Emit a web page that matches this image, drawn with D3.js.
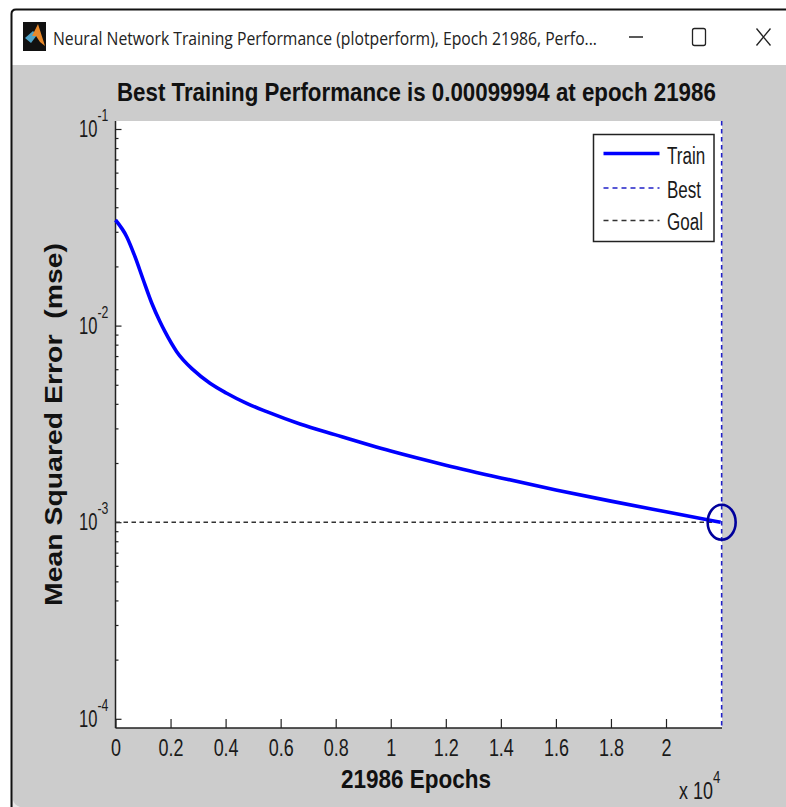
<!DOCTYPE html>
<html>
<head>
<meta charset="utf-8">
<script src="https://cdn.jsdelivr.net/npm/d3@7"></script>
<style>
  html, body { margin: 0; padding: 0; background: #fff; }
  svg { display: block; }
  text { font-family: "Liberation Sans", Arial, sans-serif; fill: #1a1a1a; }
</style>
</head>
<body>
<svg id="chart" width="786" height="807"></svg>
<script>
// values
const epochs = [0, 407, 708, 1010, 1315, 1617, 1798, 2223, 2826, 3433, 4040, 4767, 5493, 6703, 8000, 10000, 12000, 14000, 16000, 18000, 20000, 21986];
const mse = [0.03444, 0.02833, 0.02242, 0.01706, 0.01303, 0.01046, 0.00931, 0.00737, 0.00595, 0.00509, 0.00453, 0.00402, 0.00365, 0.00316, 0.00278, 0.0023, 0.00195, 0.00168, 0.00146, 0.00128, 0.00113, 0.00099994];
const bestEpoch = 21986;
const bestPerf = 0.00099994;
const goal = 0.001;
const xTicks = [0, 2000, 4000, 6000, 8000, 10000, 12000, 14000, 16000, 18000, 20000];
const xTickLabels = ["0", "0.2", "0.4", "0.6", "0.8", "1", "1.2", "1.4", "1.6", "1.8", "2"];
const yMajor = [1e-1, 1e-2, 1e-3, 1e-4];
const yExponents = ["-1", "-2", "-3", "-4"];
const yMinorMultipliers = [2, 3, 4, 5, 6, 7, 8, 9];
const legendNames = ["Train", "Best", "Goal"];

const windowTitle = "Neural Network Training Performance (plotperform), Epoch 21986, Perfo...";
const chartTitle = "Best Training Performance is 0.00099994 at epoch 21986";

const svg = d3.select("#chart"),
      width = +svg.attr("width"),
      height = +svg.attr("height");

const plot = { left: 115.5, right: 722, top: 121, bottom: 728 };

// the screenshot is squeezed sideways, so the Arial text is narrower than normal
const squeeze = function(sel, factor) {
  sel.each(function() {
    d3.select(this)
      .attr("textLength", this.getComputedTextLength() * factor)
      .attr("lengthAdjust", "spacingAndGlyphs");
  });
};

// base text with a raised exponent, as one text element
const powerLabel = function(px, py, base, exponent, sx) {
  const t = svg.append("text")
    .attr("transform", `translate(${px},${py}) scale(${sx},1)`)
    .style("font-size", "23px");
  t.append("tspan").text(base);
  t.append("tspan")
    .attr("dy", -16)
    .style("font-size", "17px")
    .text(exponent);
  return t;
};

// window frame
svg.append("rect").attr("x", 12).attr("y", 65).attr("width", width - 12).attr("height", height - 65).attr("fill", "#cccccc");
svg.append("path").attr("d", "M11.5 807V14Q11.5 9.5 16 9.5H786").attr("fill", "none").attr("stroke", "#111").attr("stroke-width", 2);
svg.append("path").attr("d", "M13 800Q14 805 20 807H13Z").attr("fill", "#e8e8e8");

// window icon
const icon = svg.append("g").attr("transform", "translate(23,22)");
icon.append("rect").attr("width", 23).attr("height", 29).attr("fill", "#111");
icon.append("path").attr("d", "M2 16L10 9L14 13L8 21Z").attr("fill", "#4fa3c7");
icon.append("path").attr("d", "M9 14L15 2L22 24L17 20L13 14Z").attr("fill", "#e8892b");

svg.append("text")
  .attr("x", 53).attr("y", 45)
  .style("font-family", "'Open Sans', sans-serif")
  .style("font-size", "18px")
  .style("fill", "#222")
  .attr("textLength", 544)
  .attr("lengthAdjust", "spacingAndGlyphs")
  .text(windowTitle);

// window buttons
svg.append("line").attr("x1", 629).attr("x2", 643).attr("y1", 37).attr("y2", 37).attr("stroke", "#222").attr("stroke-width", 1.5);
svg.append("rect").attr("x", 692.5).attr("y", 28.5).attr("width", 13).attr("height", 17).attr("rx", 2).attr("fill", "none").attr("stroke", "#222").attr("stroke-width", 1.3);
svg.append("path").attr("d", "M756.5 28.5L770.5 45.5M770.5 28.5L756.5 45.5").attr("fill", "none").attr("stroke", "#222").attr("stroke-width", 1.3);

// plot area
svg.append("rect")
  .attr("x", plot.left).attr("y", plot.top)
  .attr("width", plot.right - plot.left).attr("height", plot.bottom - plot.top)
  .attr("fill", "#fff");

const x = d3.scaleLinear()
  .domain([0, 20000])
  .range([plot.left, 666]);

const y = d3.scaleLog()
  .domain([1e-4, 1e-1])
  .range([718.8, 129]);

// axes, ticks point into the plot
const xAxis = d3.axisBottom(x)
  .tickValues(xTicks)
  .tickSize(-9)
  .tickSizeOuter(0)
  .tickPadding(12)
  .tickFormat((d, i) => xTickLabels[i]);

const gx = svg.append("g")
  .attr("transform", `translate(0,${plot.bottom})`)
  .call(xAxis);
gx.select(".domain").remove();
gx.selectAll("text")
  .style("font-size", "23px")
  .call(squeeze, 0.78);

svg.append("line")
  .attr("x1", plot.left).attr("x2", plot.right)
  .attr("y1", plot.bottom).attr("y2", plot.bottom)
  .attr("stroke", "#222").attr("stroke-width", 1.5);
svg.append("line")
  .attr("x1", plot.left).attr("x2", plot.left)
  .attr("y1", plot.top).attr("y2", plot.bottom)
  .attr("stroke", "#222").attr("stroke-width", 1.5);

const yMinor = yMajor.slice(1).flatMap(d => yMinorMultipliers.map(m => d * m));

const gyMinor = svg.append("g")
  .attr("transform", `translate(${plot.left},0)`)
  .call(d3.axisLeft(y).tickValues(yMinor).tickSize(-3).tickSizeOuter(0).tickFormat(""));
gyMinor.select(".domain").remove();

const gyMajor = svg.append("g")
  .attr("transform", `translate(${plot.left},0)`)
  .call(d3.axisLeft(y).tickValues(yMajor).tickSize(-6).tickSizeOuter(0).tickFormat(""));
gyMajor.select(".domain").remove();
svg.selectAll("g line").attr("stroke", "#222").attr("stroke-width", 1.2);

// y tick labels with superscript exponents
yMajor.forEach((d, i) => {
  powerLabel(79, y(d) + 8, "10", yExponents[i], 0.72);
});

// goal and best lines
svg.append("line")
  .attr("x1", plot.left).attr("x2", x(bestEpoch))
  .attr("y1", y(goal)).attr("y2", y(goal))
  .attr("stroke", "#333").attr("stroke-width", 1.6)
  .attr("stroke-dasharray", "4.5,3.5");

svg.append("line")
  .attr("x1", x(bestEpoch) + 1).attr("x2", x(bestEpoch) + 1)
  .attr("y1", plot.top).attr("y2", plot.bottom)
  .attr("stroke", "#2020c8").attr("stroke-width", 1.6)
  .attr("stroke-dasharray", "4.5,3.5");

// training curve
const line = d3.line()
  .x((d, i) => x(epochs[i]))
  .y(d => y(d))
  .curve(d3.curveMonotoneX);

svg.append("path")
  .datum(mse)
  .attr("d", line)
  .attr("fill", "none")
  .attr("stroke", "#0000ff")
  .attr("stroke-width", 3.6);

// best point marker, an ellipse because the picture is squeezed
svg.append("ellipse")
  .attr("cx", x(bestEpoch) + 1)
  .attr("cy", y(bestPerf))
  .attr("rx", 14)
  .attr("ry", 17.5)
  .attr("fill", "none")
  .attr("stroke", "#00009c")
  .attr("stroke-width", 2.6);

// legend
const legend = svg.append("g").attr("transform", "translate(593.5,134.5)");
legend.append("rect")
  .attr("width", 120.5).attr("height", 107)
  .attr("fill", "#fff").attr("stroke", "#222").attr("stroke-width", 1.5);

const legendY = d3.scaleOrdinal()
  .domain(legendNames)
  .range([19, 53.5, 86]);
const legendStyles = {
  Train: { color: "#0000ff", width: 3.6, dash: null },
  Best: { color: "#2020c8", width: 1.6, dash: "5,4" },
  Goal: { color: "#333", width: 1.6, dash: "5,4" }
};

legend.selectAll(".legend-line")
  .data(legendNames)
  .join("line")
    .attr("class", "legend-line")
    .attr("x1", 10).attr("x2", 66)
    .attr("y1", d => legendY(d)).attr("y2", d => legendY(d))
    .attr("stroke", d => legendStyles[d].color)
    .attr("stroke-width", d => legendStyles[d].width)
    .attr("stroke-dasharray", d => legendStyles[d].dash);

legend.selectAll(".legend-label")
  .data(legendNames)
  .join("text")
    .attr("class", "legend-label")
    .attr("x", 73.5)
    .attr("y", d => legendY(d) + (d === "Goal" ? 9 : 10))
    .style("font-size", "23px")
    .text(d => d)
    .call(squeeze, 0.74);

// titles
const titleText = svg.append("text")
  .style("font-size", "26px").style("font-weight", "bold")
  .style("fill", "#111")
  .text(chartTitle);
titleText.attr("transform", `translate(117,101) scale(${599 / titleText.node().getComputedTextLength()},1)`);

svg.append("text")
  .attr("x", 341).attr("y", 788)
  .style("font-size", "26px").style("font-weight", "bold")
  .style("fill", "#111")
  .attr("textLength", 150)
  .attr("lengthAdjust", "spacingAndGlyphs")
  .text("21986 Epochs");

powerLabel(679, 799, "x 10", "4", 0.78);

svg.append("text")
  .attr("transform", "translate(62,606) rotate(-90)")
  .style("font-size", "23px").style("font-weight", "bold")
  .style("fill", "#111")
  .style("white-space", "pre")
  .attr("textLength", 363)
  .attr("lengthAdjust", "spacingAndGlyphs")
  .text("Mean Squared Error  (mse)");
</script>
</body>
</html>
